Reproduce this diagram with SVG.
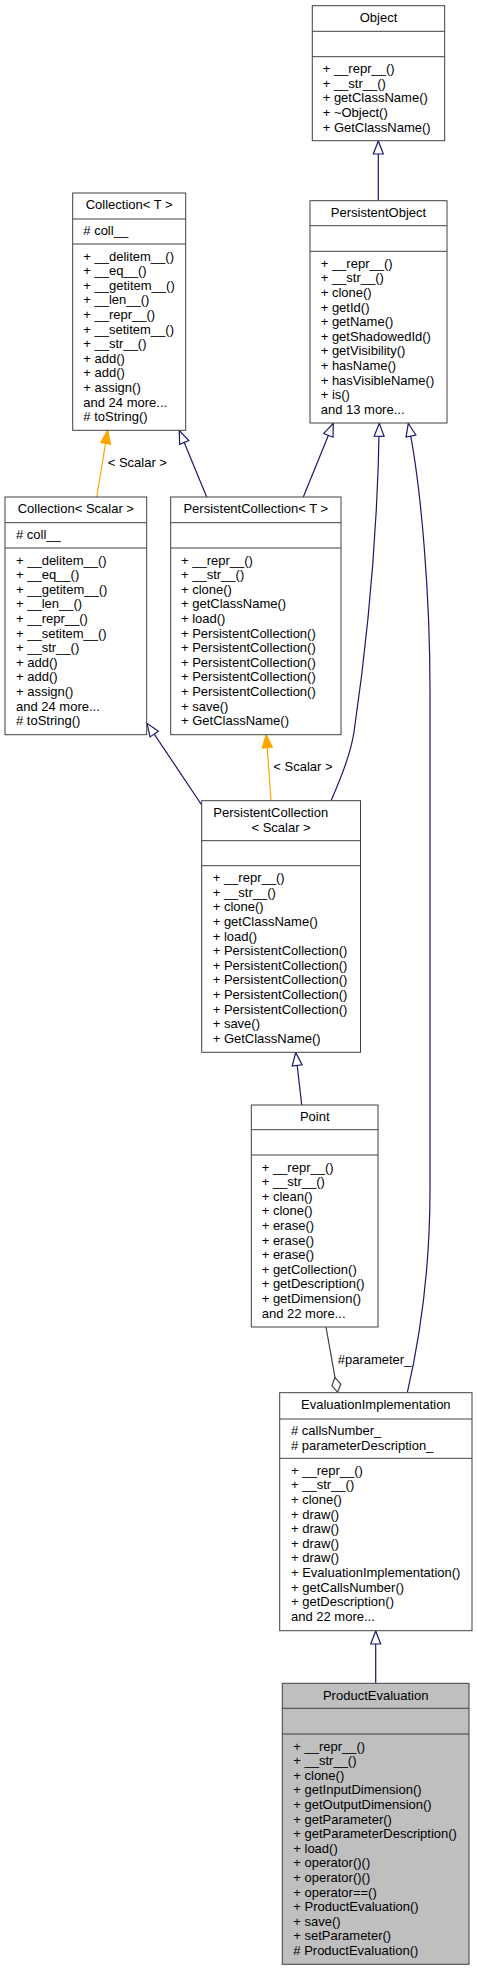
<svg xmlns="http://www.w3.org/2000/svg" width="477" height="1971" viewBox="0 0 477 1971">
<style>
.box{fill:#ffffff;stroke:#404040;stroke-width:1}
.sel{fill:#bfbfbf;stroke:#404040;stroke-width:1}
.div{stroke:#404040;stroke-width:1}
text{font-family:"Liberation Sans",Arial,sans-serif;font-size:13px;fill:#000000}
.c{text-anchor:middle}
.inh{fill:none;stroke:#191970;stroke-width:1.2;marker-end:url(#openTri)}
.tpl{fill:none;stroke:#ffa500;stroke-width:1.2;marker-end:url(#fillTri)}
.agg{fill:none;stroke:#404040;stroke-width:1.2;marker-end:url(#diamond)}
</style>
<defs>
<marker id="openTri" markerUnits="userSpaceOnUse" markerWidth="16" markerHeight="14" refX="14" refY="7" orient="auto">
<path d="M1,2 L14,7 L1,12 Z" fill="#ffffff" stroke="#191970" stroke-width="1.2"/>
</marker>
<marker id="fillTri" markerUnits="userSpaceOnUse" markerWidth="16" markerHeight="14" refX="14" refY="7" orient="auto">
<path d="M1,2 L14,7 L1,12 Z" fill="#ffa500" stroke="#ffa500" stroke-width="1.2"/>
</marker>
<marker id="diamond" markerUnits="userSpaceOnUse" markerWidth="18" markerHeight="12" refX="16.5" refY="6" orient="auto">
<path d="M1,6 L8.5,1.5 L16,6 L8.5,10.5 Z" fill="#ffffff" stroke="#404040" stroke-width="1.2"/>
</marker>
</defs>
<rect width="477" height="1971" fill="#ffffff"/>

<g id="edges">
<path class="inh" d="M378.3,200.7 L378.3,141"/>
<path class="inh" d="M206.7,497 L179.3,430.5"/>
<path class="inh" d="M303.3,497 L333.3,423.3"/>
<path class="inh" d="M331,800.7 C342,776 351,752 354,732 C366,650 377.5,540 379.3,423.3"/>
<path class="inh" d="M407.3,1392.7 C416,1355 430,1280 430,1190 L430,690 C430,600 422,490 408.3,423.3"/>
<path class="tpl" d="M96.7,497 L107.7,430.5"/>
<text x="107.7" y="467">&lt; Scalar &gt;</text>
<path class="inh" d="M201.7,805 L147,723.3"/>
<path class="tpl" d="M271,800.7 L266.3,734.7"/>
<text x="273.3" y="771">&lt; Scalar &gt;</text>
<path class="inh" d="M301.7,1105 L295.7,1052.5"/>
<path class="agg" d="M326,1327 L337.7,1392.7"/>
<text x="337.7" y="1364">#parameter_</text>
<path class="inh" d="M375.7,1683.3 L375.7,1631"/>
</g>

<g id="node-Object">
<rect class="box" x="312.3" y="5.7" width="132.4" height="135"/>
<line class="div" x1="312.3" y1="31.3" x2="444.7" y2="31.3"/>
<line class="div" x1="312.3" y1="56.7" x2="444.7" y2="56.7"/>
<text class="c" x="378.5" y="21.7">Object</text>
<text x="322.7" y="73.2">
<tspan x="322.7">+ __repr__()</tspan>
<tspan x="322.7" dy="14.6">+ __str__()</tspan>
<tspan x="322.7" dy="14.6">+ getClassName()</tspan>
<tspan x="322.7" dy="14.6">+ ~Object()</tspan>
<tspan x="322.7" dy="14.6">+ GetClassName()</tspan>
</text>
</g>

<g id="node-PersistentObject">
<rect class="box" x="310" y="200.7" width="137" height="222.3"/>
<line class="div" x1="310" y1="225.7" x2="447" y2="225.7"/>
<line class="div" x1="310" y1="251.3" x2="447" y2="251.3"/>
<text class="c" x="378.5" y="216.7">PersistentObject</text>
<text x="320.7" y="267.8">
<tspan x="320.7">+ __repr__()</tspan>
<tspan x="320.7" dy="14.6">+ __str__()</tspan>
<tspan x="320.7" dy="14.6">+ clone()</tspan>
<tspan x="320.7" dy="14.6">+ getId()</tspan>
<tspan x="320.7" dy="14.6">+ getName()</tspan>
<tspan x="320.7" dy="14.6">+ getShadowedId()</tspan>
<tspan x="320.7" dy="14.6">+ getVisibility()</tspan>
<tspan x="320.7" dy="14.6">+ hasName()</tspan>
<tspan x="320.7" dy="14.6">+ hasVisibleName()</tspan>
<tspan x="320.7" dy="14.6">+ is()</tspan>
<tspan x="320.7" dy="14.6">and 13 more...</tspan>
</text>
</g>

<g id="node-CollectionT">
<rect class="box" x="72.7" y="193" width="113" height="237.3"/>
<line class="div" x1="72.7" y1="219" x2="185.7" y2="219"/>
<line class="div" x1="72.7" y1="244" x2="185.7" y2="244"/>
<text class="c" x="129.2" y="209">Collection&lt; T &gt;</text>
<text x="83.3" y="235"># coll__</text>
<text x="83.3" y="260.5">
<tspan x="83.3">+ __delitem__()</tspan>
<tspan x="83.3" dy="14.6">+ __eq__()</tspan>
<tspan x="83.3" dy="14.6">+ __getitem__()</tspan>
<tspan x="83.3" dy="14.6">+ __len__()</tspan>
<tspan x="83.3" dy="14.6">+ __repr__()</tspan>
<tspan x="83.3" dy="14.6">+ __setitem__()</tspan>
<tspan x="83.3" dy="14.6">+ __str__()</tspan>
<tspan x="83.3" dy="14.6">+ add()</tspan>
<tspan x="83.3" dy="14.6">+ add()</tspan>
<tspan x="83.3" dy="14.6">+ assign()</tspan>
<tspan x="83.3" dy="14.6">and 24 more...</tspan>
<tspan x="83.3" dy="14.6"># toString()</tspan>
</text>
</g>

<g id="node-CollectionScalar">
<rect class="box" x="5" y="497" width="141.7" height="237.7"/>
<line class="div" x1="5" y1="522.7" x2="146.7" y2="522.7"/>
<line class="div" x1="5" y1="548" x2="146.7" y2="548"/>
<text class="c" x="75.8" y="513">Collection&lt; Scalar &gt;</text>
<text x="16" y="538.7"># coll__</text>
<text x="16" y="564.5">
<tspan x="16">+ __delitem__()</tspan>
<tspan x="16" dy="14.6">+ __eq__()</tspan>
<tspan x="16" dy="14.6">+ __getitem__()</tspan>
<tspan x="16" dy="14.6">+ __len__()</tspan>
<tspan x="16" dy="14.6">+ __repr__()</tspan>
<tspan x="16" dy="14.6">+ __setitem__()</tspan>
<tspan x="16" dy="14.6">+ __str__()</tspan>
<tspan x="16" dy="14.6">+ add()</tspan>
<tspan x="16" dy="14.6">+ add()</tspan>
<tspan x="16" dy="14.6">+ assign()</tspan>
<tspan x="16" dy="14.6">and 24 more...</tspan>
<tspan x="16" dy="14.6"># toString()</tspan>
</text>
</g>

<g id="node-PersistentCollectionT">
<rect class="box" x="170.7" y="497" width="170.3" height="237.7"/>
<line class="div" x1="170.7" y1="522.7" x2="341" y2="522.7"/>
<line class="div" x1="170.7" y1="548" x2="341" y2="548"/>
<text class="c" x="255.8" y="513">PersistentCollection&lt; T &gt;</text>
<text x="181" y="564.5">
<tspan x="181">+ __repr__()</tspan>
<tspan x="181" dy="14.6">+ __str__()</tspan>
<tspan x="181" dy="14.6">+ clone()</tspan>
<tspan x="181" dy="14.6">+ getClassName()</tspan>
<tspan x="181" dy="14.6">+ load()</tspan>
<tspan x="181" dy="14.6">+ PersistentCollection()</tspan>
<tspan x="181" dy="14.6">+ PersistentCollection()</tspan>
<tspan x="181" dy="14.6">+ PersistentCollection()</tspan>
<tspan x="181" dy="14.6">+ PersistentCollection()</tspan>
<tspan x="181" dy="14.6">+ PersistentCollection()</tspan>
<tspan x="181" dy="14.6">+ save()</tspan>
<tspan x="181" dy="14.6">+ GetClassName()</tspan>
</text>
</g>

<g id="node-PersistentCollectionScalar">
<rect class="box" x="201.7" y="800.7" width="158.8" height="251.6"/>
<line class="div" x1="201.7" y1="840.7" x2="360.5" y2="840.7"/>
<line class="div" x1="201.7" y1="865.7" x2="360.5" y2="865.7"/>
<text x="213.3" y="817">PersistentCollection</text>
<text class="c" x="281.1" y="831.6">&lt; Scalar &gt;</text>
<text x="212.7" y="882.2">
<tspan x="212.7">+ __repr__()</tspan>
<tspan x="212.7" dy="14.6">+ __str__()</tspan>
<tspan x="212.7" dy="14.6">+ clone()</tspan>
<tspan x="212.7" dy="14.6">+ getClassName()</tspan>
<tspan x="212.7" dy="14.6">+ load()</tspan>
<tspan x="212.7" dy="14.6">+ PersistentCollection()</tspan>
<tspan x="212.7" dy="14.6">+ PersistentCollection()</tspan>
<tspan x="212.7" dy="14.6">+ PersistentCollection()</tspan>
<tspan x="212.7" dy="14.6">+ PersistentCollection()</tspan>
<tspan x="212.7" dy="14.6">+ PersistentCollection()</tspan>
<tspan x="212.7" dy="14.6">+ save()</tspan>
<tspan x="212.7" dy="14.6">+ GetClassName()</tspan>
</text>
</g>

<g id="node-Point">
<rect class="box" x="251.3" y="1105" width="126.7" height="222"/>
<line class="div" x1="251.3" y1="1129.7" x2="378" y2="1129.7"/>
<line class="div" x1="251.3" y1="1155" x2="378" y2="1155"/>
<text class="c" x="314.7" y="1121">Point</text>
<text x="261.7" y="1171.5">
<tspan x="261.7">+ __repr__()</tspan>
<tspan x="261.7" dy="14.6">+ __str__()</tspan>
<tspan x="261.7" dy="14.6">+ clean()</tspan>
<tspan x="261.7" dy="14.6">+ clone()</tspan>
<tspan x="261.7" dy="14.6">+ erase()</tspan>
<tspan x="261.7" dy="14.6">+ erase()</tspan>
<tspan x="261.7" dy="14.6">+ erase()</tspan>
<tspan x="261.7" dy="14.6">+ getCollection()</tspan>
<tspan x="261.7" dy="14.6">+ getDescription()</tspan>
<tspan x="261.7" dy="14.6">+ getDimension()</tspan>
<tspan x="261.7" dy="14.6">and 22 more...</tspan>
</text>
</g>

<g id="node-EvaluationImplementation">
<rect class="box" x="279.7" y="1392.7" width="192.3" height="238"/>
<line class="div" x1="279.7" y1="1419" x2="472" y2="1419"/>
<line class="div" x1="279.7" y1="1458.3" x2="472" y2="1458.3"/>
<text class="c" x="375.8" y="1409">EvaluationImplementation</text>
<text x="291" y="1435">
<tspan x="291"># callsNumber_</tspan>
<tspan x="291" dy="14.6"># parameterDescription_</tspan>
</text>
<text x="291" y="1474.8">
<tspan x="291">+ __repr__()</tspan>
<tspan x="291" dy="14.6">+ __str__()</tspan>
<tspan x="291" dy="14.6">+ clone()</tspan>
<tspan x="291" dy="14.6">+ draw()</tspan>
<tspan x="291" dy="14.6">+ draw()</tspan>
<tspan x="291" dy="14.6">+ draw()</tspan>
<tspan x="291" dy="14.6">+ draw()</tspan>
<tspan x="291" dy="14.6">+ EvaluationImplementation()</tspan>
<tspan x="291" dy="14.6">+ getCallsNumber()</tspan>
<tspan x="291" dy="14.6">+ getDescription()</tspan>
<tspan x="291" dy="14.6">and 22 more...</tspan>
</text>
</g>

<g id="node-ProductEvaluation">
<rect class="sel" x="282.3" y="1683.3" width="186.7" height="281"/>
<line class="div" x1="282.3" y1="1708.3" x2="469" y2="1708.3"/>
<line class="div" x1="282.3" y1="1734" x2="469" y2="1734"/>
<text class="c" x="375.7" y="1699.5">ProductEvaluation</text>
<text x="293.3" y="1750.5">
<tspan x="293.3">+ __repr__()</tspan>
<tspan x="293.3" dy="14.6">+ __str__()</tspan>
<tspan x="293.3" dy="14.6">+ clone()</tspan>
<tspan x="293.3" dy="14.6">+ getInputDimension()</tspan>
<tspan x="293.3" dy="14.6">+ getOutputDimension()</tspan>
<tspan x="293.3" dy="14.6">+ getParameter()</tspan>
<tspan x="293.3" dy="14.6">+ getParameterDescription()</tspan>
<tspan x="293.3" dy="14.6">+ load()</tspan>
<tspan x="293.3" dy="14.6">+ operator()()</tspan>
<tspan x="293.3" dy="14.6">+ operator()()</tspan>
<tspan x="293.3" dy="14.6">+ operator==()</tspan>
<tspan x="293.3" dy="14.6">+ ProductEvaluation()</tspan>
<tspan x="293.3" dy="14.6">+ save()</tspan>
<tspan x="293.3" dy="14.6">+ setParameter()</tspan>
<tspan x="293.3" dy="14.6"># ProductEvaluation()</tspan>
</text>
</g>
</svg>
